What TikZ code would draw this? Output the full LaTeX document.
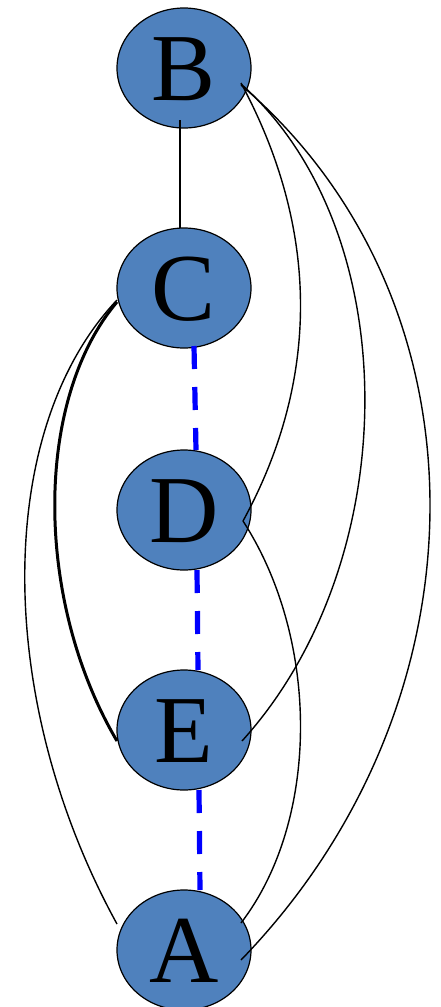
\documentclass[tikz,border=0pt]{standalone}
\usepackage{fontspec}
\setmainfont{Liberation Serif}
\usetikzlibrary{shapes.geometric}
\definecolor{nodeblue}{HTML}{4F81BD}
\begin{document}
\begin{tikzpicture}[x=1pt, y=-1pt, line width=1.4pt,
		vertex/.style={ellipse, draw=black, line width=1.2pt, fill=nodeblue, minimum width=134pt, minimum height=120pt, inner sep=0pt,
			font=\fontsize{96}{96}\selectfont, text height=64pt, text depth=0pt},
		blueedge/.style={blue, line width=5.2pt, dash pattern=on 23pt off 18pt}]
	\useasboundingbox (0,0) rectangle (441,1007);
	% 节点
	\node[vertex] (B) at (184,68) {B};
	\node[vertex] (C) at (184,288) {C};
	\node[vertex] (D) at (184,510) {D};
	\node[vertex] (E) at (184,730) {E};
	\node[vertex] (A) at (184,950) {A};
	
	% 虚线 (蓝色)
	\draw[blueedge] ([shift={(10,58)}]C.center) -- ([shift={(12,-60)}]D.center);
	\draw[blueedge] ([shift={(13,60)}]D.center) -- ([shift={(14,-60)}]E.center);
	\draw[blueedge] ([shift={(15,60)}]E.center) -- ([shift={(16,-60)}]A.center);
	
	% B 的边
	\draw ([shift={(-4,52)}]B.center) -- ([shift={(-4,-60)}]C.center);
	\draw ([shift={(57,15)}]B.center) .. controls (320,230) and (320,380) .. ([shift={(59,11)}]D.center);
	\draw ([shift={(57,16)}]B.center) .. controls (406,230) and (406,560) .. ([shift={(58,11)}]E.center);
	\draw ([shift={(57,17)}]B.center) .. controls (493,300) and (493,700) .. ([shift={(57,10)}]A.center);
	
	% D -- A
	\draw ([shift={(59,11)}]D.center) .. controls (320,640) and (320,820) .. ([shift={(57,-27)}]A.center);
	
	% C 的边 (左侧)
	\draw[line width=3pt] ([shift={(-67,14)}]C.center) .. controls (34,400) and (34,600) .. ([shift={(-67,11)}]E.center);
	\draw ([shift={(-67,12)}]C.center) .. controls (-6,430) and (-6,700) .. ([shift={(-67,-26)}]A.center);
\end{tikzpicture}
\end{document}
